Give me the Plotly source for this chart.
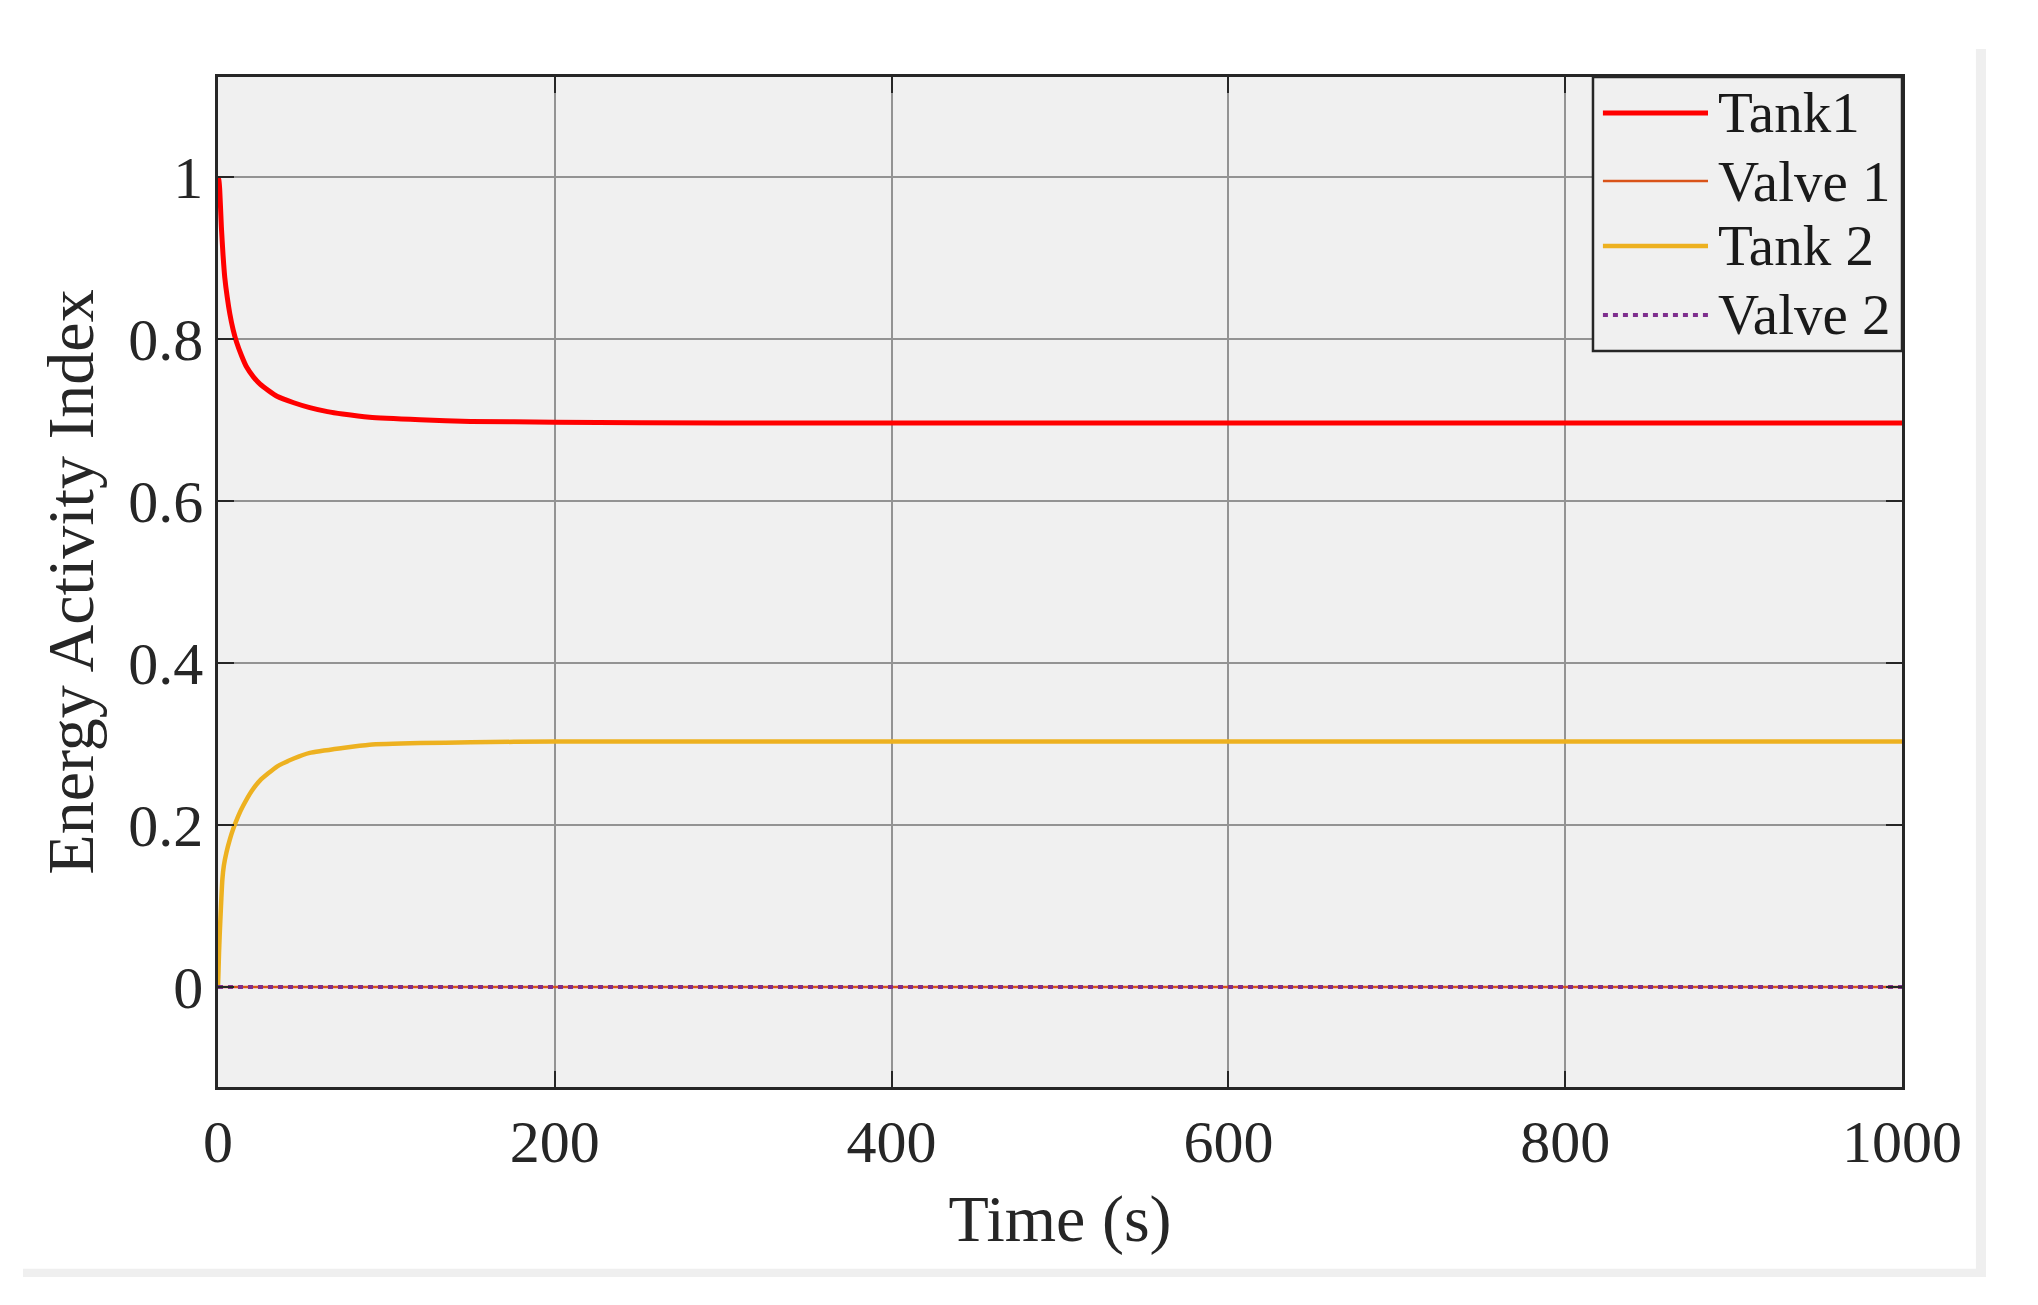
import plotly.graph_objects as go

# ─── Data ────────────────────────────────────────────────────────────────────
T_TANK1 = [0, 0.5, 1, 2, 3, 4, 5.5, 7, 9, 11, 14, 17, 21, 25, 30, 35, 45, 54.5,
           65, 74, 90, 120, 150, 200, 300, 500, 1000]
TANK1 = [1.0, 0.996, 0.985, 0.938, 0.903, 0.876, 0.851, 0.831, 0.811, 0.796, 0.779,
         0.765, 0.753, 0.744, 0.736, 0.729, 0.721, 0.715, 0.710, 0.707, 0.703,
         0.700, 0.698, 0.697, 0.696, 0.696, 0.696]

T_TANK2 = [0, 0.3, 0.6, 1.0, 1.4, 2.0, 2.6, 3.5, 5, 7, 9, 12, 15, 20, 25, 35, 45,
           54.5, 74, 90, 120, 150, 200, 300, 500, 1000]
TANK2 = [0.0, 0.02, 0.042, 0.064, 0.083, 0.110, 0.133, 0.150, 0.166, 0.182, 0.195,
         0.211, 0.224, 0.242, 0.255, 0.272, 0.282, 0.289, 0.295, 0.299, 0.301,
         0.302, 0.303, 0.303, 0.303, 0.303]

T_VALVE = [0, 1000]
VALVE1 = [0, 0]
VALVE2 = [0, 0]

SERIES_NAMES = ["Tank1", "Valve 1", "Tank 2", "Valve 2"]
X_TICKS = [0, 200, 400, 600, 800, 1000]
Y_TICKS = [0, 0.2, 0.4, 0.6, 0.8, 1]
Y_TICK_TEXT = ["0", "0.2", "0.4", "0.6", "0.8", "1"]

# ─── Style ───────────────────────────────────────────────────────────────────
FONT = "Liberation Serif, Times New Roman, serif"
AXIS = "#262626"
GRID = "#939393"
PLOT_BG = "#f0f0f0"

LINE_STYLES = [
    dict(color="#ff0000", width=5),
    dict(color="#d95319", width=2.5),
    dict(color="#edb120", width=4.5),
    dict(color="#7e2f8e", width=4, dash="5px,5px"),
]

series = [(T_TANK1, TANK1), (T_VALVE, VALVE1), (T_TANK2, TANK2), (T_VALVE, VALVE2)]

fig = go.Figure()
for (t, v), name, style in zip(series, SERIES_NAMES, LINE_STYLES):
    line = dict(style)
    if len(t) > 2:
        line.update(shape="spline", smoothing=0.5)
    fig.add_trace(go.Scatter(x=t, y=v, name=name, mode="lines", line=line, showlegend=False))

axis_common = dict(
    showline=True, linecolor=AXIS, linewidth=2.5, mirror="ticks",
    ticks="inside", ticklen=16, tickwidth=2, tickcolor=AXIS,
    showgrid=True, gridcolor=GRID, gridwidth=2, zeroline=False,
    tickfont=dict(family=FONT, size=60, color="#262626"),
)

# ─── MATLAB-style legend box (long line samples) in the top-right corner ────
LEG_X0, LEG_X1, LEG_Y0, LEG_Y1 = 0.8165, 1.0, 0.7287, 1.0
ROW_Y = [0.9644, 0.8970, 0.8327, 0.7644]
shapes = [dict(type="rect", xref="paper", yref="paper", x0=LEG_X0, x1=LEG_X1, y0=LEG_Y0, y1=LEG_Y1,
               fillcolor=PLOT_BG, line=dict(color=AXIS, width=2.5))]
annotations = []
for name, style, ry in zip(SERIES_NAMES, LINE_STYLES, ROW_Y):
    shapes.append(dict(type="line", xref="paper", yref="paper", x0=0.8224, x1=0.8848, y0=ry, y1=ry,
                       line=dict(color=style["color"], width=style["width"], dash=style.get("dash", "solid"))))
    annotations.append(dict(xref="paper", yref="paper", x=0.8895, y=ry, text=name, showarrow=False,
                            xanchor="left", yanchor="middle",
                            font=dict(family=FONT, size=57, color="#1a1a1a")))

# light frame shadow along the right and bottom of the figure
shapes += [
    dict(type="rect", xref="paper", yref="paper", x0=1.0439, x1=1.0499, y0=-0.188, y1=1.0277,
         fillcolor="#efefef", line=dict(width=0), layer="below"),
    dict(type="rect", xref="paper", yref="paper", x0=-0.1158, x1=1.0499, y0=-0.188, y1=-0.180,
         fillcolor="#efefef", line=dict(width=0), layer="below"),
]

fig.update_layout(
    width=2038, height=1305,
    paper_bgcolor="white", plot_bgcolor=PLOT_BG,
    margin=dict(l=210, r=144, t=69, b=226),
    font=dict(family=FONT, color="#262626"),
    xaxis=dict(**axis_common, range=[0, 1000], tickvals=X_TICKS,
               title=dict(text="Time (s)", font=dict(family=FONT, size=66), standoff=22)),
    yaxis=dict(**axis_common, range=[-0.1234, 1.123], tickvals=Y_TICKS, ticktext=Y_TICK_TEXT,
               title=dict(text="Energy Activity Index", font=dict(family=FONT, size=66), standoff=14)),
    showlegend=False,
    shapes=shapes,
    annotations=annotations,
)

fig.write_html("out.html")
